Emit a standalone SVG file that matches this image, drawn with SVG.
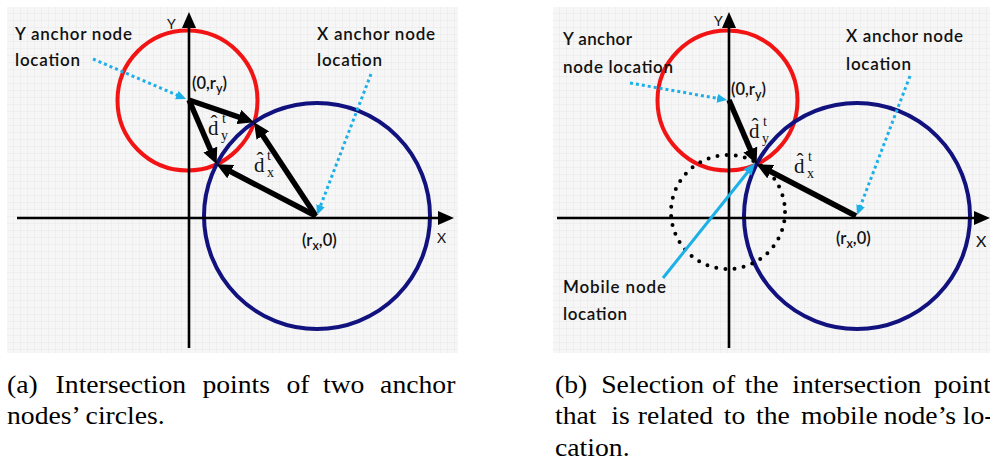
<svg xmlns="http://www.w3.org/2000/svg" width="990" height="462" viewBox="0 0 990 462">
<defs>
<pattern id="grid" width="7" height="7" patternUnits="userSpaceOnUse">
<rect width="7" height="7" fill="#f6f6f6"/>
<path d="M7 0V7M0 7H7" stroke="#e2e2e2" stroke-width="0.8" fill="none"/>
</pattern>
<marker id="axh" markerUnits="userSpaceOnUse" markerWidth="16" markerHeight="14" refX="6" refY="7" orient="auto"><path d="M0,0 L16,7 L0,14 z" fill="#000"/></marker>
<marker id="bkh" markerUnits="userSpaceOnUse" markerWidth="17" markerHeight="15" refX="4" refY="7.5" orient="auto"><path d="M0,0 L16,7.5 L0,15 z" fill="#000"/></marker>
<marker id="lbh" markerUnits="userSpaceOnUse" markerWidth="10" markerHeight="10" refX="3" refY="4.5" orient="auto"><path d="M0,0 L10,4.5 L0,9 z" fill="#1cb0e8"/></marker>
<marker id="lbs" markerUnits="userSpaceOnUse" markerWidth="12" markerHeight="11" refX="3" refY="5" orient="auto"><path d="M0,0 L12,5 L0,10 z" fill="#1cb0e8"/></marker>
<style>
.bg{fill:url(#grid)}
.axis{stroke:#000;stroke-width:2.6;fill:none;marker-end:url(#axh)}
.red{stroke:#f21414;stroke-width:4;fill:none}
.blue{stroke:#12127f;stroke-width:4;fill:none}
.dots{stroke:#000;stroke-width:4;fill:none;stroke-dasharray:0 9.2;stroke-linecap:round}
.vec{stroke:#000;stroke-width:5.5;fill:none;marker-end:url(#bkh)}
.dotarr{stroke:#1cb0e8;stroke-width:3;fill:none;stroke-dasharray:3 3;marker-end:url(#lbh)}
.solarr{stroke:#1cb0e8;stroke-width:3;fill:none;marker-end:url(#lbs)}
.lbl{font-family:Lato,"Open Sans",sans-serif;font-size:17px;font-weight:600;fill:#111}
.co{font-family:Lato,"Open Sans",sans-serif;font-size:16.5px;font-weight:600;fill:#111}
.sb{font-size:12.5px}
.ax{font-family:Lato,"Open Sans",sans-serif;font-size:14px;fill:#111}
.m{font-family:"Liberation Serif","DejaVu Serif",serif;font-size:21px;fill:#111}
.ms{font-size:14px}
.cap{font-family:"Liberation Serif","Times New Roman",serif;font-size:24.5px;fill:#000}
</style>
</defs>

<g id="panel-a">
<rect class="bg" x="7" y="7" width="451" height="346"/>
<text class="ax" x="167" y="29">Y</text>
<g id="a-circles">
<circle id="a-ycircle" class="red" cx="187.5" cy="100.5" r="70"/>
<circle id="a-xcircle" class="blue" cx="317" cy="216" r="113"/>
</g>
<g id="a-axes">
<line class="axis" x1="189" y1="348" x2="189" y2="22"/>
<line class="axis" x1="17" y1="218" x2="444" y2="218"/>
</g>
<g id="a-connectors">
<line class="vec" x1="189" y1="100" x2="242.6" y2="118.3"/>
<line class="vec" x1="189" y1="100" x2="211.9" y2="153.2"/>
<line class="vec" x1="316" y1="216" x2="260.6" y2="132.2"/>
<line class="vec" x1="316" y1="216" x2="227.2" y2="169.8"/>
<line class="dotarr" x1="93" y1="59" x2="179.6" y2="96.2"/>
<line class="dotarr" x1="371" y1="74" x2="319.5" y2="208.5"/>
</g>
<g id="a-yanchor-label"><text class="lbl" x="15" y="40" textLength="117" lengthAdjust="spacing">Y anchor node</text><text class="lbl" x="15" y="66" textLength="65" lengthAdjust="spacing">location</text></g>
<g id="a-xanchor-label"><text class="lbl" x="317" y="40" textLength="118" lengthAdjust="spacing">X anchor node</text><text class="lbl" x="317" y="66" textLength="65" lengthAdjust="spacing">location</text></g>
<g id="a-yanchor"><text class="co" x="192" y="89">(0,r<tspan class="sb" dy="4">y</tspan><tspan dy="-4">)</tspan></text></g>
<g id="a-xanchor"><text class="co" x="302" y="246">(r<tspan class="sb" dy="4">x</tspan><tspan dy="-4">,0)</tspan></text></g>
<text class="ax" x="437" y="243">X</text>
<g id="a-dy"><text class="m"><tspan x="208" y="135">d̂</tspan><tspan class="ms" x="222" y="123">t</tspan><tspan class="ms" x="221" y="140">y</tspan></text></g>
<g id="a-dx"><text class="m"><tspan x="254" y="172">d̂</tspan><tspan class="ms" x="267" y="160">t</tspan><tspan class="ms" x="267" y="177">x</tspan></text></g>
</g>

<g id="panel-b">
<rect class="bg" x="553" y="7" width="437" height="346"/>
<text class="ax" x="714" y="26">Y</text>
<g id="b-circles">
<circle id="b-ycircle" class="red" cx="727.5" cy="100.5" r="70"/>
<circle id="b-xcircle" class="blue" cx="857" cy="216" r="113"/>
<circle id="b-mobile" class="dots" cx="728" cy="212" r="57"/>
</g>
<g id="b-axes">
<line class="axis" x1="729" y1="348" x2="729" y2="22"/>
<line class="axis" x1="557" y1="218" x2="980" y2="218"/>
</g>
<g id="b-connectors">
<line class="vec" x1="729" y1="100" x2="751.9" y2="153.2"/>
<line class="vec" x1="856" y1="216" x2="767.2" y2="169.8"/>
<line class="dotarr" x1="630" y1="83" x2="720.1" y2="98.8"/>
<line class="dotarr" x1="910" y1="76" x2="859.5" y2="208.5"/>
<line class="solarr" x1="663" y1="278" x2="749.4" y2="170"/>
</g>
<g id="b-yanchor-label"><text class="lbl" x="563" y="45" textLength="69" lengthAdjust="spacing">Y anchor</text><text class="lbl" x="563" y="73" textLength="110" lengthAdjust="spacing">node location</text></g>
<g id="b-xanchor-label"><text class="lbl" x="846" y="42" textLength="117" lengthAdjust="spacing">X anchor node</text><text class="lbl" x="846" y="70" textLength="65" lengthAdjust="spacing">location</text></g>
<g id="b-mobile-label"><text class="lbl" x="563" y="293" textLength="103" lengthAdjust="spacing">Mobile node</text><text class="lbl" x="563" y="320" textLength="64" lengthAdjust="spacing">location</text></g>
<g id="b-yanchor"><text class="co" x="731" y="95">(0,r<tspan class="sb" dy="4">y</tspan><tspan dy="-4">)</tspan></text></g>
<g id="b-xanchor"><text class="co" x="836" y="244">(r<tspan class="sb" dy="4">x</tspan><tspan dy="-4">,0)</tspan></text></g>
<text class="ax" x="976" y="247" style="font-size:16px">X</text>
<g id="b-dy"><text class="m"><tspan x="749" y="138">d̂</tspan><tspan class="ms" x="763" y="126">t</tspan><tspan class="ms" x="762" y="143">y</tspan></text></g>
<g id="b-dx"><text class="m"><tspan x="794" y="173">d̂</tspan><tspan class="ms" x="808" y="161">t</tspan><tspan class="ms" x="807" y="178">x</tspan></text></g>
</g>

<g id="captions" transform="scale(1.13,1)">
<text class="cap"><tspan x="6.19" y="393">(a) </tspan><tspan x="49.2" y="393">Intersection </tspan><tspan x="179.1" y="393">points </tspan><tspan x="253.5" y="393">of </tspan><tspan x="285.8" y="393">two </tspan><tspan x="336.4" y="393">anchor</tspan><tspan x="6.19" y="424.5">nodes’ circles.</tspan></text>
<text class="cap"><tspan x="491.2" y="393">(b) </tspan><tspan x="532" y="393">Selection </tspan><tspan x="630.2" y="393">of </tspan><tspan x="659.1" y="393">the </tspan><tspan x="701.2" y="393">intersection </tspan><tspan x="826.5" y="393">point</tspan><tspan x="491.2" y="424.5">that </tspan><tspan x="540.9" y="424.5">is </tspan><tspan x="564.5" y="424.5">related </tspan><tspan x="640.5" y="424.5">to </tspan><tspan x="669" y="424.5">the </tspan><tspan x="708.8" y="424.5">mobile </tspan><tspan x="782.2" y="424.5">node’s </tspan><tspan x="852" y="424.5">lo-</tspan><tspan x="491.2" y="456">cation.</tspan></text>
</g>
</svg>
